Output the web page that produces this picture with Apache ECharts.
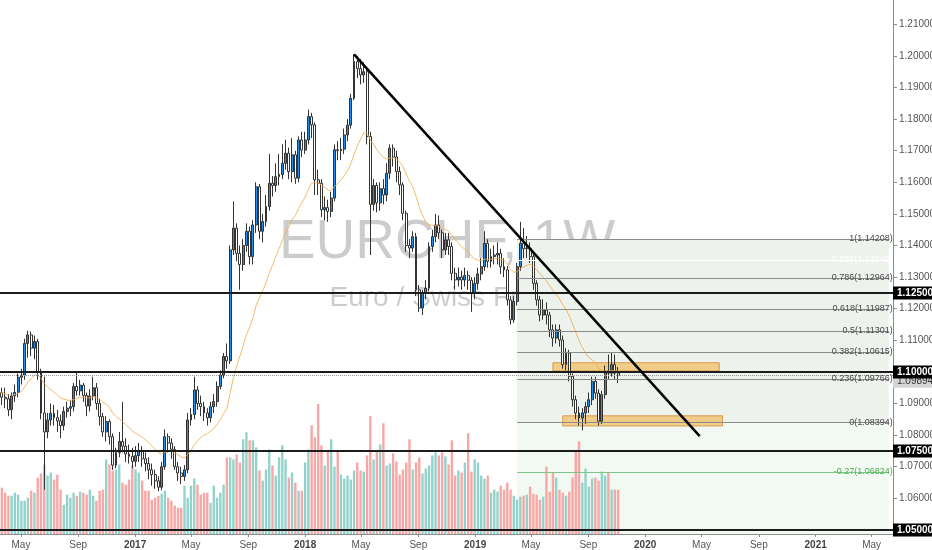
<!DOCTYPE html>
<html>
<head>
<meta charset="utf-8">
<title>EURCHF, 1W</title>
<script src="https://cdn.jsdelivr.net/npm/echarts@6/dist/echarts.min.js"></script>
<style>
html,body{margin:0;padding:0;background:#fff;}
#main{width:932px;height:550px;}
</style>
</head>
<body>
<div id="main"></div>
<script>
// weekly bars, first bar = week of 2016-03-14
var firstWeek = '2016-03-14';
var firstOpen = 1.0950;
var closes = [
 1.0935,1.0920,1.0915,1.0880,1.0924,1.0935,1.0983,1.0990,1.1090,1.1117,
 1.1075,1.1096,1.1000,1.0870,1.0810,1.0848,1.0869,1.0855,1.0845,1.0830,
 1.0875,1.0885,1.0890,1.0954,1.0940,1.0958,1.0925,1.0892,1.0924,1.0950,
 1.0900,1.0859,1.0810,1.0843,1.0795,1.0705,1.0745,1.0780,1.0765,1.0740,
 1.0733,1.0717,1.0735,1.0750,1.0725,1.0710,1.0690,1.0675,1.0655,1.0635,
 1.0700,1.0795,1.0775,1.0755,1.0700,1.0680,1.0669,1.0690,1.0848,1.0865,
 1.0943,1.0900,1.0890,1.0870,1.0855,1.0890,1.0906,1.0954,1.0990,1.1049,
 1.1035,1.1386,1.1455,1.1375,1.1340,1.1400,1.1445,1.1365,1.1465,1.1586,
 1.1445,1.1476,1.1523,1.1597,1.1590,1.1618,1.1625,1.1660,1.1692,1.1634,
 1.1687,1.1613,1.1734,1.1702,1.1734,1.1808,1.1782,1.1608,1.1597,1.1513,
 1.1520,1.1508,1.1550,1.1703,1.1700,1.1705,1.1750,1.1781,1.1866,1.1982,
 1.1960,1.1940,1.1950,1.1745,1.1530,1.1590,1.1535,1.1580,1.1560,1.1629,
 1.1708,1.1680,1.1634,1.1592,1.1502,1.1400,1.1392,1.1428,1.1260,1.1202,
 1.1249,1.1265,1.1397,1.1428,1.1465,1.1440,1.1386,1.1418,1.1397,1.1312,
 1.1291,1.1300,1.1291,1.1305,1.1290,1.1250,1.1280,1.1310,1.1333,1.1407,
 1.1350,1.1365,1.1370,1.1375,1.1333,1.1323,1.1228,1.1165,1.1223,1.1333,
 1.1407,1.1390,1.1391,1.1365,1.1280,1.1228,1.1180,1.1196,1.1180,1.1133,
 1.1107,1.1133,1.1101,1.1023,1.1060,1.0986,1.0912,1.0870,1.0854,1.0870,
 1.0890,1.0912,1.0970,1.0933,1.0844,1.0928,1.1002,1.0996,1.1023,1.0996,1.0989
];
var highs = [
 1.0975,1.0950,1.0950,1.0930,1.0935,1.0960,1.0995,1.1010,1.1105,1.1130,
 1.1128,1.1115,1.1105,1.1010,1.0985,1.0870,1.0900,1.0895,1.0880,1.0865,
 1.0890,1.0905,1.0910,1.0965,1.0998,1.0975,1.0965,1.0935,1.0945,1.0985,
 1.0965,1.0915,1.0870,1.0860,1.0850,1.0805,1.0760,1.0810,1.0905,1.0790,
 1.0770,1.0760,1.0765,1.0775,1.0765,1.0745,1.0730,1.0710,1.0690,1.0670,
 1.0715,1.0818,1.0805,1.0790,1.0765,1.0715,1.0700,1.0705,1.0870,1.0885,
 1.0985,1.0955,1.0925,1.0905,1.0885,1.0905,1.0930,1.0970,1.1005,1.1060,
 1.1090,1.1400,1.1540,1.1470,1.1400,1.1420,1.1470,1.1460,1.1480,1.1600,
 1.1595,1.1500,1.1560,1.1690,1.1620,1.1660,1.1690,1.1720,1.1735,1.1710,
 1.1740,1.1700,1.1745,1.1760,1.1760,1.1830,1.1820,1.1790,1.1640,1.1610,
 1.1555,1.1545,1.1570,1.1720,1.1730,1.1740,1.1770,1.1800,1.1880,1.2005,
 1.2000,1.1990,1.1980,1.1960,1.1760,1.1610,1.1600,1.1600,1.1610,1.1660,
 1.1720,1.1720,1.1700,1.1650,1.1600,1.1510,1.1420,1.1445,1.1440,1.1275,
 1.1260,1.1290,1.1410,1.1450,1.1500,1.1495,1.1450,1.1440,1.1440,1.1410,
 1.1330,1.1330,1.1320,1.1330,1.1320,1.1300,1.1300,1.1330,1.1360,1.1445,
 1.1420,1.1390,1.1400,1.1410,1.1390,1.1360,1.1335,1.1240,1.1240,1.1345,
 1.1475,1.1455,1.1430,1.1410,1.1375,1.1290,1.1240,1.1230,1.1220,1.1190,
 1.1150,1.1150,1.1150,1.1115,1.1075,1.1070,1.0995,1.0925,1.0890,1.0885,
 1.0905,1.0935,1.0985,1.0985,1.0945,1.0940,1.1020,1.1055,1.1060,1.1055,1.1015
];
var lows = [
 1.0915,1.0895,1.0885,1.0860,1.0850,1.0905,1.0920,1.0960,1.0975,1.1045,
 1.1050,1.1040,1.0975,1.0850,1.0627,1.0790,1.0830,1.0830,1.0810,1.0790,
 1.0815,1.0855,1.0860,1.0875,1.0925,1.0925,1.0905,1.0860,1.0875,1.0910,
 1.0880,1.0830,1.0795,1.0780,1.0770,1.0690,1.0695,1.0730,1.0745,1.0715,
 1.0710,1.0695,1.0700,1.0715,1.0700,1.0685,1.0660,1.0640,1.0630,1.0622,
 1.0625,1.0690,1.0745,1.0725,1.0690,1.0655,1.0645,1.0655,1.0680,1.0830,
 1.0850,1.0880,1.0860,1.0845,1.0830,1.0840,1.0870,1.0890,1.0945,1.0980,
 1.1010,1.1025,1.1370,1.1350,1.1260,1.1320,1.1380,1.1340,1.1340,1.1440,
 1.1420,1.1410,1.1460,1.1510,1.1555,1.1570,1.1590,1.1610,1.1640,1.1610,
 1.1600,1.1595,1.1600,1.1680,1.1690,1.1720,1.1740,1.1560,1.1560,1.1490,
 1.1480,1.1475,1.1490,1.1540,1.1670,1.1670,1.1690,1.1730,1.1770,1.1860,
 1.1930,1.1910,1.1915,1.1720,1.1370,1.1510,1.1505,1.1510,1.1530,1.1540,
 1.1610,1.1650,1.1600,1.1560,1.1480,1.1380,1.1360,1.1380,1.1240,1.1190,
 1.1180,1.1230,1.1255,1.1380,1.1410,1.1420,1.1360,1.1370,1.1370,1.1290,
 1.1260,1.1270,1.1260,1.1270,1.1260,1.1190,1.1230,1.1260,1.1290,1.1320,
 1.1330,1.1330,1.1340,1.1340,1.1310,1.1300,1.1210,1.1150,1.1155,1.1210,
 1.1320,1.1360,1.1360,1.1345,1.1260,1.1210,1.1160,1.1165,1.1150,1.1110,
 1.1080,1.1090,1.1080,1.1010,1.1005,1.0970,1.0890,1.0850,1.0830,1.0815,
 1.0835,1.0870,1.0895,1.0915,1.0830,1.0835,1.0915,1.0975,1.0985,1.0975,1.0965
];
var volumes = [
 34,46,41,38,38,41,39,33,33,36,
 43,41,56,60,69,58,61,54,59,44,
 29,39,36,41,38,42,41,39,44,38,
 33,43,44,74,69,63,64,69,51,49,
 54,68,64,61,53,43,43,34,36,38,
 40,43,36,33,28,26,26,48,36,48,
 55,49,39,41,41,31,48,36,41,49,
 76,76,74,79,71,94,101,93,93,86,
 63,53,64,84,68,58,76,88,74,56,
 61,51,
 43,43,71,84,108,96,129,88,68,83,
 94,67,83,59,55,58,54,63,71,63,
 62,78,117,74,82,89,110,68,70,80,
 72,59,64,71,94,64,71,76,60,65,
 68,78,81,78,81,77,69,93,58,63,
 61,71,100,62,74,71,58,55,58,41,
 44,42,48,44,51,44,38,34,37,38,
 39,47,40,39,34,37,67,42,61,56,
 44,41,38,42,56,83,92,51,65,47,
 55,56,53,62,58,61,44,44,44
];

var xStart = '2016-03-17', xEnd = '2021-06-16';
var yMin = 1.0487, yMax = 1.2177;
var xTickDates = ['2016-05-01','2016-09-01','2017-01-01','2017-05-01','2017-09-01','2018-01-01','2018-05-01','2018-09-01',
                  '2019-01-01','2019-05-01','2019-09-01','2020-01-01','2020-05-01','2020-09-01','2021-01-01','2021-05-01'];
var xTickLabels = ['May','Sep','2017','May','Sep','2018','May','Sep','2019','May','Sep','2020','May','Sep','2021','May'];
var yTickValues = [1.06,1.07,1.08,1.09,1.11,1.12,1.13,1.14,1.15,1.16,1.17,1.18,1.19,1.20,1.21];

var keyLevels = [1.125, 1.10, 1.075, 1.05];
var lastPrice = 1.09894;

var fibRatios = ['1','0.886','0.786','0.618','0.5','0.382','0.236','0','-0.27'];
var fibPrices = [1.14208,1.13545,1.12964,1.11987,1.11301,1.10615,1.09766,1.08394,1.06824];
var fibFrom = '2019-04-01', fibTo = '2021-06-07';

var trendFrom = ['2018-04-16', 1.2005];
var trendTo = ['2020-04-27', 1.0797];

var zoneFrom = ['2019-06-17','2019-07-08'];
var zoneTo = ['2020-06-08','2020-06-15'];
var zoneTop = [1.1029, 1.0861];
var zoneBottom = [1.1003, 1.0829];

function d(s){ var p = s.split('-'); return Date.UTC(+p[0], p[1]-1, +p[2]); }
function ema(vals, n){
  var k = 2/(n+1), out = [], e = vals[0];
  for (var i = 0; i < vals.length; i++){ e = i ? vals[i]*k + e*(1-k) : vals[0]; out.push(e); }
  return out;
}

var t0 = d(firstWeek), week = 7*86400000;
var candles = [], vols = [], emaData = [];
var emaVals = ema(closes, 20);
for (var i = 0; i < closes.length; i++){
  var t = t0 + i*week;
  var o = i ? closes[i-1] : firstOpen;
  candles.push([t, o, closes[i], lows[i], highs[i]]);
  vols.push({value:[t, volumes[i]], itemStyle:{color: closes[i] >= o ? '#94d3cc' : '#f7a8a6'}});
  emaData.push([t, emaVals[i]]);
}

var xTicks = xTickDates.map(d);

// fib levels
var fibLines = fibPrices.map(function(p, k){
  var col = fibRatios[k] === '0.886' ? '#ffffff' : (fibRatios[k] === '-0.27' ? '#7cc68a' : '#8a8a8a');
  var txt = fibRatios[k] === '0.886' ? '#ffffff' : (fibRatios[k] === '-0.27' ? '#4caf50' : '#4a4a4a');
  return [
    {coord:[d(fibFrom), p], lineStyle:{color:col, width:1, type:'solid'},
     label:{show:true, position:'insideEndTop', distance:-4, color:txt, fontSize:9,
            fontFamily:'Liberation Sans', formatter: fibRatios[k] + '(' + p.toFixed(5) + ')'}},
    {coord:[d(fibTo), p]}
  ];
});

var areas = [
  [{coord:[d(fibFrom), fibPrices[0]], itemStyle:{color:'#edf2ed'}}, {coord:[d(fibTo), fibPrices[7]]}],
  [{coord:[d(fibFrom), fibPrices[7]], itemStyle:{color:'#f2f8f2'}}, {coord:[d(fibTo), yMin]}]
];
for (var z = 0; z < zoneFrom.length; z++){
  areas.push([
    {coord:[d(zoneFrom[z]), zoneTop[z]], itemStyle:{color:'rgba(245,166,35,0.5)', borderColor:'#d99a4e', borderWidth:1}},
    {coord:[d(zoneTo[z]), zoneBottom[z]]}
  ]);
}

var overlayLines = [
  {yAxis:lastPrice, lineStyle:{color:'#9a9a9a', width:1, type:'dotted'},
   label:{show:true, position:'end', distance:0, offset:[0,6], formatter:lastPrice.toFixed(5),
          color:'#333', backgroundColor:'#d4d4d4', fontSize:10, fontFamily:'Liberation Sans', padding:[2,5,1,4]}}
];
keyLevels.forEach(function(v){
  overlayLines.push({yAxis:v, lineStyle:{color:'#1c1c1c', width:2, type:'solid'},
    label:{show:true, position:'end', distance:0, formatter:v.toFixed(5), color:'#fff',
           backgroundColor:'#000', fontWeight:'bold', fontSize:10, fontFamily:'Liberation Sans', padding:[2,5,1,4]}});
});
overlayLines.push([
  {coord:[d(trendFrom[0]), trendFrom[1]], lineStyle:{color:'#000', width:2.5, type:'solid'}, label:{show:false}},
  {coord:[d(trendTo[0]), trendTo[1]]}
]);

var option = {
  animation: false,
  backgroundColor: '#ffffff',
  textStyle: {fontFamily: 'Liberation Sans'},
  grid: {left:0, right:39, top:0, bottom:16, containLabel:false, outerBoundsMode:'none'},
  graphic: [
    {type:'text', x:447, y:243, z:0, silent:true,
     style:{text:'EURCHF, 1W', font:'55px "Liberation Sans"', fill:'rgba(0,0,0,0.2)', textAlign:'center', textVerticalAlign:'middle'}},
    {type:'text', x:447, y:298, z:0, silent:true,
     style:{text:'Euro / Swiss Franc', font:'28px "Liberation Sans"', fill:'rgba(0,0,0,0.2)', textAlign:'center', textVerticalAlign:'middle'}}
  ],
  xAxis: {
    type:'value', min:d(xStart), max:d(xEnd),
    axisLine:{show:true, lineStyle:{color:'#8c8c8c'}},
    axisTick:{show:true, customValues:xTicks, length:3, lineStyle:{color:'#8c8c8c'}},
    axisLabel:{customValues:xTicks, color:'#555', fontSize:10, margin:6,
      formatter:function(v){
        var k = xTicks.indexOf(v);
        var s = k >= 0 ? xTickLabels[k] : '';
        return /^\d{4}$/.test(s) ? '{y|' + s + '}' : s;
      },
      rich:{y:{fontWeight:'bold', color:'#444', fontSize:10}}},
    splitLine:{show:false}
  },
  yAxis: [
    {type:'value', position:'right', min:yMin, max:yMax,
     axisLine:{show:true, lineStyle:{color:'#8c8c8c'}},
     axisTick:{show:true, customValues:yTickValues, length:4, lineStyle:{color:'#8c8c8c'}},
     axisLabel:{customValues:yTickValues, color:'#555', fontSize:10, margin:6,
                formatter:function(v){ return v.toFixed(5); }},
     splitLine:{show:false}},
    {type:'value', min:0, max:530, show:false}
  ],
  series: [
    {name:'fib', type:'line', data:[], z:1, silent:true,
     markArea:{silent:true, data:areas},
     markLine:{silent:true, symbol:'none', precision:5, data:fibLines}},
    {name:'Volume', type:'bar', xAxisIndex:0, yAxisIndex:1, data:vols, barWidth:2.4, z:2, silent:true},
    {name:'EURCHF', type:'candlestick', data:candles, encode:{x:0, y:[1,2,3,4]}, z:3, barWidth:2.4,
     itemStyle:{color:'#1f8ef1', color0:'#ffffff', borderColor:'#333333', borderColor0:'#333333', borderWidth:1}},
    {name:'EMA', type:'line', data:emaData, z:4, showSymbol:false, silent:true,
     lineStyle:{color:'#f4a84a', width:1, opacity:0.8}},
    {name:'levels', type:'line', data:[], z:5, silent:true,
     markLine:{silent:true, symbol:'none', precision:5, data:overlayLines}}
  ]
};

var myChart = echarts.init(document.getElementById('main'));
myChart.setOption(option);
</script>
</body>
</html>
